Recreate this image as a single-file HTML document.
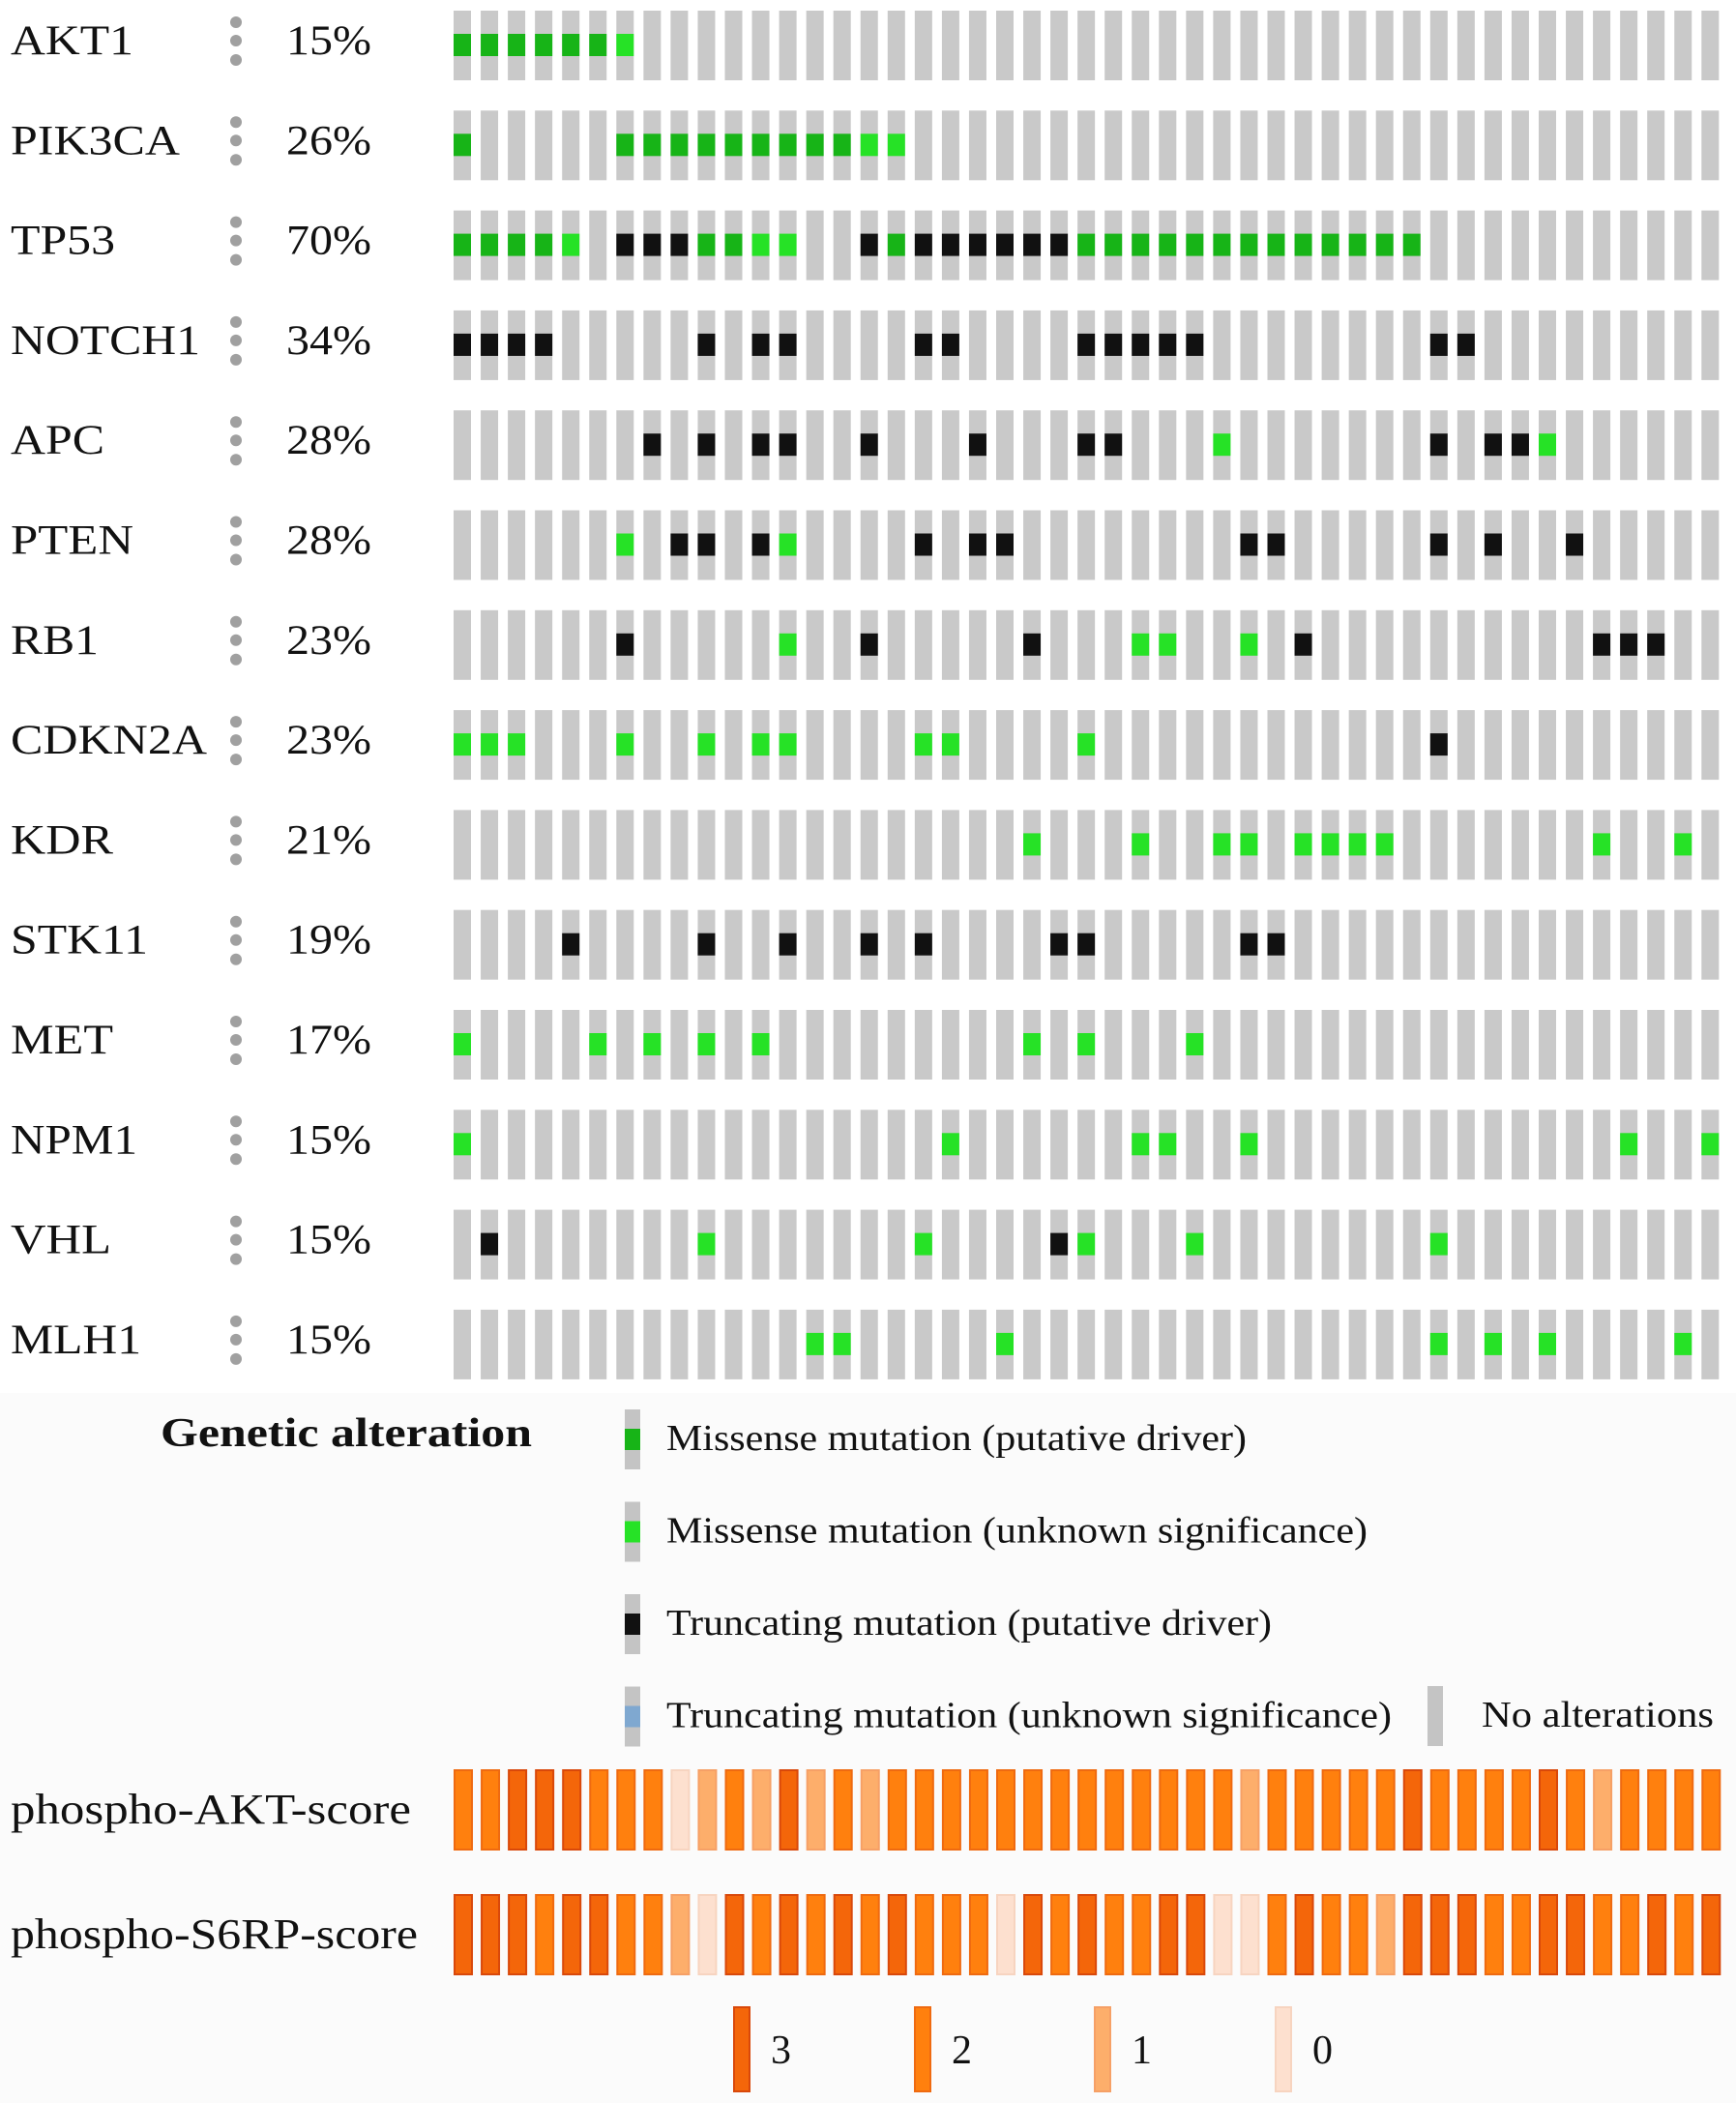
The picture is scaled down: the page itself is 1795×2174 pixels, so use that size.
<!DOCTYPE html>
<html><head><meta charset="utf-8"><style>
html,body{margin:0;padding:0;background:#fff}
svg{display:block}
text{font-family:"Liberation Serif",serif;fill:#111}
</style></head><body>
<svg id="chart" width="1795" height="2174" viewBox="0 0 1795 2174" xmlns="http://www.w3.org/2000/svg">
<rect x="0" y="1440" width="1795" height="734" fill="#fbfbfb"/>
<g id="grid"></g>
<g id="legend"></g>
<g id="phospho"></g>
</svg>
<script>
const genes = ["AKT1","PIK3CA","TP53","NOTCH1","APC","PTEN","RB1","CDKN2A","KDR","STK11","MET","NPM1","VHL","MLH1"];
const percents = ["15%","26%","70%","34%","28%","28%","23%","23%","21%","19%","17%","15%","15%","15%"];
// alteration codes: 1 = missense driver, 2 = missense unknown, 3 = truncating driver ; listed as [column, code]
const alterations = [
 [[0,1],[1,1],[2,1],[3,1],[4,1],[5,1],[6,2]],
 [[0,1],[6,1],[7,1],[8,1],[9,1],[10,1],[11,1],[12,1],[13,1],[14,1],[15,2],[16,2]],
 [[0,1],[1,1],[2,1],[3,1],[4,2],[6,3],[7,3],[8,3],[9,1],[10,1],[11,2],[12,2],[15,3],[16,1],[17,3],[18,3],[19,3],[20,3],[21,3],[22,3],[23,1],[24,1],[25,1],[26,1],[27,1],[28,1],[29,1],[30,1],[31,1],[32,1],[33,1],[34,1],[35,1]],
 [[0,3],[1,3],[2,3],[3,3],[9,3],[11,3],[12,3],[17,3],[18,3],[23,3],[24,3],[25,3],[26,3],[27,3],[36,3],[37,3]],
 [[7,3],[9,3],[11,3],[12,3],[15,3],[19,3],[23,3],[24,3],[28,2],[36,3],[38,3],[39,3],[40,2]],
 [[6,2],[8,3],[9,3],[11,3],[12,2],[17,3],[19,3],[20,3],[29,3],[30,3],[36,3],[38,3],[41,3]],
 [[6,3],[12,2],[15,3],[21,3],[25,2],[26,2],[29,2],[31,3],[42,3],[43,3],[44,3]],
 [[0,2],[1,2],[2,2],[6,2],[9,2],[11,2],[12,2],[17,2],[18,2],[23,2],[36,3]],
 [[21,2],[25,2],[28,2],[29,2],[31,2],[32,2],[33,2],[34,2],[42,2],[45,2]],
 [[4,3],[9,3],[12,3],[15,3],[17,3],[22,3],[23,3],[29,3],[30,3]],
 [[0,2],[5,2],[7,2],[9,2],[11,2],[21,2],[23,2],[27,2]],
 [[0,2],[18,2],[25,2],[26,2],[29,2],[43,2],[46,2]],
 [[1,3],[9,2],[17,2],[22,3],[23,2],[27,2],[36,2]],
 [[13,2],[14,2],[20,2],[36,2],[38,2],[40,2],[45,2]]
];
const aktScores = [2,2,3,3,3,2,2,2,0,1,2,1,3,1,2,1,2,2,2,2,2,2,2,2,2,2,2,2,2,1,2,2,2,2,2,3,2,2,2,2,3,2,1,2,2,2,2];
const s6rpScores = [3,3,3,2,3,3,2,2,1,0,3,2,3,2,3,2,3,2,2,2,0,3,2,3,2,2,3,3,0,0,2,3,2,2,1,3,3,3,2,2,3,3,2,2,3,2,3];
const scoreLevels = ["3","2","1","0"];
const legendItems = ["Missense mutation (putative driver)","Missense mutation (unknown significance)","Truncating mutation (putative driver)","Truncating mutation (unknown significance)"];

const NS="http://www.w3.org/2000/svg";
const nCols = 47;
const colX = i => 469 + i*28.05;
const rowTop = r => 11 + r*103.3;
const altColor = {1:"#17b417",2:"#26e226",3:"#111111"};
const legColor = ["#17b417","#26e226","#111111","#7fa8d0"];
const scoreColor = {3:"#f4660a",2:"#ff800e",1:"#fdae6b",0:"#fde0cf"};
const scoreStroke = {3:"#d9480a",2:"#ef6a10",1:"#f6a066",0:"#f7d4c0"};
const labelW = {AKT1:127,PIK3CA:175,TP53:108,NOTCH1:196,APC:97,PTEN:127,RB1:91,CDKN2A:203,KDR:106,STK11:142,MET:106,NPM1:131,VHL:104,MLH1:135};
function mk(tag, attrs, parent){const e=document.createElementNS(NS,tag);for(const k in attrs)e.setAttribute(k,attrs[k]);parent.appendChild(e);return e;}

const grid=document.getElementById('grid');
genes.forEach((g,r)=>{
  const top=rowTop(r);
  const t=mk('text',{x:11,y:top+45,'font-size':43,textLength:labelW[g],lengthAdjust:'spacingAndGlyphs'},grid);
  t.textContent=g;
  
  
  const dg=mk('g',{},grid);
  
  
  [12,31,51].forEach(dy=>mk('circle',{cx:244,cy:top+dy,r:6,fill:'#a0a0a0'},dg));
  const p=mk('text',{x:296,y:top+45,'font-size':43,textLength:88,lengthAdjust:'spacingAndGlyphs'},grid);
  p.textContent=percents[r];
  
  
  for(let c=0;c<nCols;c++){
    const b=mk('rect',{x:colX(c),y:top,width:18,height:72,fill:'#c9c9c9'},grid);
    
    
  }
  alterations[r].forEach(([c,code])=>{
    const m=mk('rect',{x:colX(c),y:top+24,width:18,height:23,fill:altColor[code]},grid);
    
    
  });
});

const leg=document.getElementById('legend');
const title=mk('text',{x:166,y:1495,'font-size':42,'font-weight':'bold',textLength:384,lengthAdjust:'spacingAndGlyphs'},leg);
title.textContent="Genetic alteration";


const legWidths=[600,725,626,750];
legendItems.forEach((s,i)=>{
  const y=1457+i*95.5;
  const ic=mk('rect',{x:646,y:y,width:16,height:62,fill:'#c4c4c4'},leg);
  
  
  const cm=mk('rect',{x:646,y:y+20,width:16,height:22,fill:legColor[i]},leg);
  
  
  const t=mk('text',{x:689,y:y+42,'font-size':38,textLength:legWidths[i],lengthAdjust:'spacingAndGlyphs'},leg);
  t.textContent=s;
  
  
});
const na=mk('rect',{x:1476,y:1743,width:16,height:62,fill:'#c4c4c4'},leg);


const nat=mk('text',{x:1532,y:1785,'font-size':38,textLength:240,lengthAdjust:'spacingAndGlyphs'},leg);
nat.textContent="No alterations";



const ph=document.getElementById('phospho');
[["phospho-AKT-score",aktScores,1829,414],["phospho-S6RP-score",s6rpScores,1958,421]].forEach(([lab,arr,top,w])=>{
  const t=mk('text',{x:11,y:top+56,'font-size':44,textLength:w,lengthAdjust:'spacingAndGlyphs'},ph);
  t.textContent=lab;
  
  
  arr.forEach((v,c)=>{
    const b=mk('rect',{x:colX(c)+1,y:top+1,width:18,height:82,fill:scoreColor[v],stroke:scoreStroke[v],'stroke-width':2},ph);
    
    
  });
});
const sx=[759,946,1132,1319];
scoreLevels.forEach((s,i)=>{
  const b=mk('rect',{x:sx[i],y:2075,width:16,height:87,fill:scoreColor[+s],stroke:scoreStroke[+s],'stroke-width':2},ph);
  
  
  const t=mk('text',{x:sx[i]+38,y:2133,'font-size':42},ph);
  t.textContent=s;
  
  
});
</script>
</body></html>
